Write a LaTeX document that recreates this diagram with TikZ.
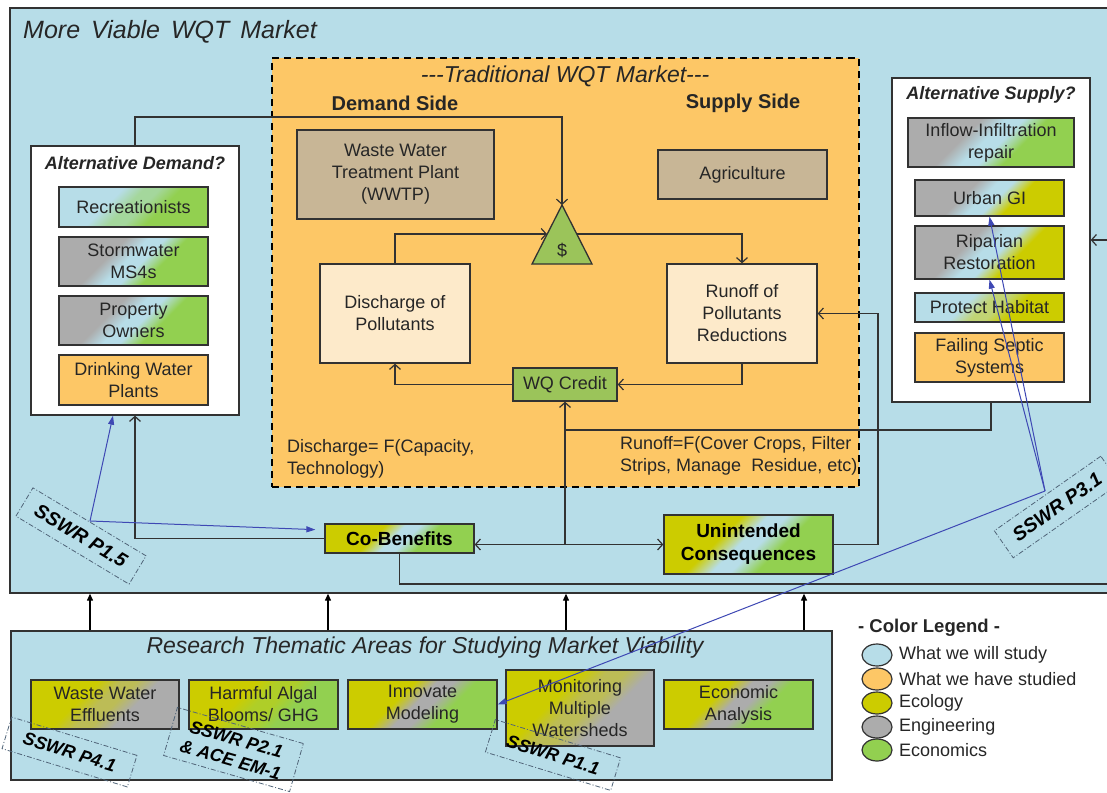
\documentclass[tikz,border=0pt]{standalone}
\usepackage{fontspec}
\setmainfont{Liberation Sans}
\usetikzlibrary{arrows.meta,shapes.geometric}
\definecolor{cblue}{RGB}{183,221,232}
\definecolor{cgreen}{RGB}{146,208,80}
\definecolor{cgreenb}{RGB}{155,196,90}
\definecolor{cyellow}{RGB}{204,204,0}
\definecolor{cgray}{RGB}{172,172,172}
\definecolor{corange}{RGB}{253,199,102}
\definecolor{ctan}{RGB}{200,182,150}
\definecolor{ccream}{RGB}{253,234,202}
\definecolor{lc}{RGB}{50,50,50}
\definecolor{tc}{RGB}{38,38,38}
\definecolor{cbarr}{RGB}{62,72,180}
\definecolor{clbl}{RGB}{80,100,120}
\colorlet{gA}{cgray}\colorlet{gB}{cblue}\colorlet{gC}{cgreen}
\pgfdeclareverticalshading[gA,gB,gC]{tri}{100bp}{color(0bp)=(gC); color(39bp)=(gC); color(47bp)=(gB); color(53bp)=(gB); color(61bp)=(gA); color(100bp)=(gA)}
\newcommand\fbx{\fontsize{18}{22}\selectfont}
\newcommand\fti{\fontsize{25}{29}\selectfont\itshape}
\newcommand\fsb{\fontsize{23}{27}\selectfont\itshape}
\newcommand\fbd{\fontsize{19}{23}\selectfont\bfseries}
\newcommand\fside{\fontsize{20}{24}\selectfont\bfseries}
\newcommand\fleg{\fontsize{18.5}{22}\selectfont\bfseries}
\newcommand\fbi{\fontsize{18}{22}\selectfont\bfseries\itshape}
\newcommand\flb{\fontsize{18}{21}\selectfont\bfseries\itshape}
\newcommand\flbb{\fontsize{19.5}{22}\selectfont\bfseries\itshape}
\begin{document}
\begin{tikzpicture}[x=1pt,y=-1pt,
  box/.style={draw=lc, line width=1.3pt, align=center, text=tc, inner sep=1pt, font=\fbx},
  cont/.style={draw=lc, line width=1.3pt, inner sep=0pt},
  grad/.style n args={3}{/utils/exec={\colorlet{gA}{#1}\colorlet{gB}{#2}\colorlet{gC}{#3}}, shade, shading=tri, shading angle=45},
  arr/.style={draw=lc, line width=1.2pt, -{Straight Barb[length=5pt,width=11pt]}},
  ln/.style={draw=lc, line width=1.2pt},
  tarr/.style={draw=black, line width=1.2pt, -{Triangle[length=7pt,width=6pt]}},
  barr/.style={draw=cbarr, line width=1pt, -{Triangle[length=9pt,width=6pt]}},
  lbl/.style={draw=clbl, line width=0.8pt, dash pattern=on 5pt off 2pt on 1pt off 2pt, font=\flb, text=black, align=center, inner sep=0pt},
  txt/.style={text=tc, inner sep=0pt}
]
\useasboundingbox (0,0) rectangle (1107,792);
\clip (0,0) rectangle (1107,792);
\fill[white] (0,0) rectangle (1107,792);

% outer market box
\node[cont, fill=cblue, minimum width=1115, minimum height=585] (outer) at (567.5,300.5) {};
\node[txt, anchor=west, font=\fti] (outertitle) at (23,32) {More\ \hspace{4pt}Viable\ \hspace{4pt}WQT\ \hspace{4pt}Market};

% traditional market
\node[draw=black, line width=2pt, dash pattern=on 7pt off 5pt, fill=corange, minimum width=587, minimum height=429] (trad) at (565.5,272.5) {};
\node[txt, font=\fsb] (tradtitle) at (565,76) {{-}{-}{-}Traditional WQT Market{-}{-}{-}};
\node[txt, font=\fside] (dside) at (395,103) {Demand Side};
\node[txt, font=\fside] (sside) at (743,103) {Supply Side};
\node[box, fill=ctan, minimum width=197, minimum height=89] (wwtp) at (395.5,174.5) {Waste Water\\Treatment Plant\\(WWTP)};
\node[box, fill=ctan, minimum width=169, minimum height=49] (agri) at (742.5,174.5) {Agriculture};
\coordinate (triA) at (562,205);
\coordinate (triL) at (532,264);
\coordinate (triR) at (592,264);
\coordinate (triW) at (547,234);
\coordinate (triE) at (577,234);
\draw[lc, line width=1.3pt, fill=cgreenb] (triA) -- (triL) -- (triR) -- cycle;
\node[txt, font=\fbx] (dollar) at (562,250) {\$};
\node[box, fill=ccream, minimum width=150, minimum height=99] (discharge) at (395,313.5) {Discharge of\\Pollutants};
\node[box, fill=ccream, minimum width=150, minimum height=99] (runoff) at (742,313.5) {Runoff of\\Pollutants\\Reductions};
\node[box, fill=cgreenb, minimum width=104, minimum height=33] (wq) at (565,384.5) {WQ Credit};
\node[txt, anchor=west, align=left, font=\fbx] (dform) at (287,459) {Discharge= F(Capacity,\\Technology)};
\node[txt, anchor=west, align=left, font=\fbx] (rform) at (620,456) {Runoff=F(Cover Crops, Filter\\Strips, Manage\ \ Residue, etc)};

% alternative demand
\node[cont, fill=white, minimum width=208, minimum height=269] (altd) at (135,280.5) {};
\node[txt, font=\fbi] (altdt) at (135,163) {Alternative Demand?};
\node[box, grad={cblue}{cblue!50!cgreen}{cgreen}, minimum width=149, minimum height=40] (recre) at (133.5,207) {Recreationists};
\node[box, grad={cgray}{cblue}{cgreen}, minimum width=149, minimum height=49] (storm) at (133.5,261.5) {Stormwater\\MS4s};
\node[box, grad={cgray}{cblue}{cgreen}, minimum width=149, minimum height=49] (prop) at (133.5,320.5) {Property\\Owners};
\node[box, fill=corange, minimum width=149, minimum height=50] (drink) at (133.5,380) {Drinking Water\\Plants};

% alternative supply
\node[cont, fill=white, minimum width=198, minimum height=324] (alts) at (991,240) {};
\node[txt, font=\fbi] (altst) at (991,95) {Alternative Supply?};
\node[box, grad={cgray}{cblue}{cgreen}, minimum width=166, minimum height=49] (inflow) at (991,142.5) {Inflow-Infiltration\\repair};
\node[box, grad={cgray}{cblue}{cyellow}, minimum width=149, minimum height=36] (urban) at (989.5,198) {Urban GI};
\node[box, grad={cgray}{cblue}{cyellow}, minimum width=149, minimum height=53] (ripar) at (989.5,252.5) {Riparian\\Restoration};
\node[box, grad={cblue}{cblue!50!cyellow}{cyellow}, minimum width=149, minimum height=29] (protect) at (989.5,307.5) {Protect Habitat};
\node[box, fill=corange, minimum width=149, minimum height=49] (septic) at (989.5,357.5) {Failing Septic\\Systems};

% co-benefits / unintended
\node[box, font=\fbd, text=black, grad={cyellow}{cblue}{cgreen}, minimum width=149, minimum height=29] (cob) at (399.5,538.5) {Co-Benefits};
\node[box, font=\fbd, text=black, grad={cyellow}{cblue}{cgreen}, minimum width=169, minimum height=59] (unint) at (748.5,544.5) {Unintended\\Consequences};

% research areas
\node[cont, fill=cblue, minimum width=821, minimum height=149] (research) at (421.5,705.5) {};
\node[txt, font=\fsb] (restitle) at (425,648) {Research Thematic Areas for Studying Market Viability};
\node[box, grad={cyellow}{cyellow!50!cgray}{cgray}, minimum width=148, minimum height=49] (wwe) at (105,704.5) {Waste Water\\Effluents};
\node[box, grad={cyellow}{cyellow!50!cgreen}{cgreen}, minimum width=149, minimum height=49] (hab) at (263.5,704.5) {Harmful Algal\\Blooms/ GHG};
\node[box, grad={cyellow}{cgray}{cgreen}, minimum width=149, minimum height=49] (innov) at (422.5,704.5) {Innovate\\Modeling};
\node[box, grad={cyellow}{cyellow!50!cgray}{cgray}, minimum width=148, minimum height=76] (monit) at (580,708) {Monitoring\\Multiple\\Watersheds};
\node[box, grad={cyellow}{cgray}{cgreen}, minimum width=149, minimum height=49] (econ) at (738.5,704.5) {Economic\\Analysis};

% connectors inside traditional market
\draw[arr] (altd.north) |- (562,117) -- (triA);
\draw[arr] (discharge.north) |- (triW);
\draw[arr] (triE) -| (runoff.north);
\draw[arr] (runoff.south) |- (wq.east);
\draw[arr] (wq.west) -| (discharge.south);

% junction lines
\coordinate (j1) at (565,430);
\coordinate (j2) at (565,544.5);
\draw[ln] (alts.south) |- (j1);
\draw[arr] (j2) -- (wq.south);
\draw[arr] (j2) -- (cob.east |- j2);
\draw[arr] (j2) -- (unint.west);
\draw[arr] (cob.west) -| (altd.south);
\coordinate (rt) at (1118,584);
\draw[arr] (cob.south) |- (rt) |- (alts.east);
\coordinate (u1) at (878,313.5);
\draw[arr] (unint.east) -| (u1) -- (runoff.east);

% research arrows
\foreach \xx/\nm in {90/ra,328/rb,566/rc,804/rd}{
  \coordinate (\nm) at (\xx,0);
  \draw[tarr] (research.north -| \nm) -- (outer.south -| \nm);
}

% labels
\node[lbl, font=\flbb, rotate=-31, minimum width=132, minimum height=33] (l15) at (81,536) {SSWR P1.5};
\node[lbl, font=\flbb, rotate=35, minimum width=130, minimum height=33] (l31) at (1057,507) {SSWR P3.1};
\node[lbl, rotate=-17, minimum width=131, minimum height=33] (l41) at (69.5,752) {SSWR P4.1};
\node[lbl, rotate=-16, minimum width=131, minimum height=50] (l21) at (233.5,749.5) {SSWR P2.1\\\& ACE EM-1};
\node[lbl, rotate=-17, minimum width=131, minimum height=34] (l11) at (553,755) {SSWR P1.1};

% blue arrows
\coordinate (p15) at (90,521);
\coordinate (p31) at (1045,491);
\draw[barr, shorten >=9pt] (p15) -- ([yshift=8.5pt]cob.west);
\draw[barr] (p15) -- ([xshift=-22pt]altd.south);
\draw[barr] (p31) -- (urban.south);
\draw[barr] (p31) -- (ripar.south);
\draw[barr] (p31) -- (innov.east);

% legend
\node[txt, font=\fleg, anchor=west] (legt) at (858,628) {- Color Legend -};
\foreach \yy/\cc/\tt/\nm in {655/cblue/What we will study/la,679/corange/What we have studied/lb,703/cyellow/Ecology/lc,727/cgray/Engineering/ld,750/cgreen/Economics/le}{
  \node[ellipse, draw=lc, line width=1.2pt, fill=\cc, minimum width=30, minimum height=22, inner sep=0pt] (\nm e) at (877,\yy) {};
  \node[txt, font=\fbx, anchor=west] (\nm t) at (899,\yy) {\tt};
}
\end{tikzpicture}
\end{document}
